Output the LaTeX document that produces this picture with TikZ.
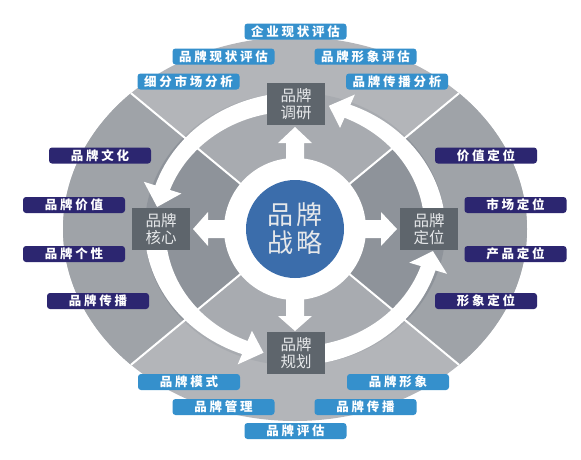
\documentclass[tikz,border=0pt]{standalone}
\usepackage{fontspec}
\newfontfamily\cjk{Noto Sans CJK SC}
\newfontfamily\cjksp[LetterSpace=22]{Noto Sans CJK SC}
\newfontfamily\cjkc[LetterSpace=8]{Noto Sans CJK SC}
\definecolor{outerlight}{HTML}{B3B5B9}
\definecolor{outerdark}{HTML}{9FA3A8}
\definecolor{innerlight}{HTML}{A8ABB0}
\definecolor{innerdark}{HTML}{8E939A}
\definecolor{boxgray}{HTML}{5E656C}
\definecolor{boxtext}{HTML}{E6E8EA}
\definecolor{coreblue}{HTML}{3B6DAB}
\definecolor{lblue}{HTML}{3590CC}
\definecolor{navy}{HTML}{2C2670}
\tikzset{
  lbl/.style={rounded corners=3pt, minimum width=102pt, minimum height=16pt, inner sep=0pt, text=white, font=\cjksp\bfseries\fontsize{12.5}{12.5}\selectfont},
  lb/.style={lbl, fill=lblue},
  ln/.style={lbl, fill=navy},
  gbox/.style={fill=boxgray, minimum width=58pt, minimum height=42pt, inner sep=0pt, text=boxtext, align=center, font=\cjk\fontsize{15.5}{17}\selectfont},
  divider/.style={white, line width=2pt},
  blockarrow/.style={fill=white},
}
% curved tapering arrow: start angle, head-base angle, tip angle
\newcommand{\curvarrow}[3]{%
  \fill[white] plot[domain=#1:#2, samples=30] (\x:{136.5-2.5*(\x-#1)/(#2-#1)})
    -- (#2:145) -- (#3:127) -- (#2:109)
    -- plot[domain=#2:#1, samples=30] (\x:{117.5+2.5*(\x-#1)/(#2-#1)}) -- cycle;}
\begin{document}
\begin{tikzpicture}[x=1pt,y=-1pt]
\useasboundingbox (0,0) rectangle (581,459);
\fill[white] (0,0) rectangle (581,459);
% rings and sectors
\begin{scope}
  \clip (295,229) ellipse [x radius=232pt, y radius=192pt];
  \fill[outerlight] (0,0) rectangle (581,459);
  \fill[outerdark] (295,229) -- (-33,-42.6) -- (-33,500.6) -- cycle;
  \fill[outerdark] (295,229) -- (623,-42.6) -- (623,500.6) -- cycle;
  \begin{scope}
    \clip (295,229) ellipse [x radius=150.5pt, y radius=136.5pt];
    \fill[innerlight] (0,0) rectangle (581,459);
    \fill[innerdark] (295,229) -- (-33,-42.6) -- (-33,500.6) -- cycle;
    \fill[innerdark] (295,229) -- (623,-42.6) -- (623,500.6) -- cycle;
  \end{scope}
  \draw[divider] (-33,-42.6) -- (623,500.6);
  \draw[divider] (-33,500.6) -- (623,-42.6);
\end{scope}
% center
\fill[white] (295,229) circle [radius=71pt];
\node[circle, fill=coreblue, minimum size=98pt, inner sep=0pt, text=boxtext, align=center,
      font=\cjkc\fontsize{26}{28}\selectfont] (core) at (295,229) {品牌\\战略};
% curved arrows
\begin{scope}[shift={(295,229)}, xscale=1.1024, yscale=-1]
  \curvarrow{95}{161}{170}
  \curvarrow{185}{249}{257}
  \curvarrow{275}{342}{350}
  \curvarrow{5}{68}{76}
\end{scope}
% straight arrows
\fill[blockarrow] (286,165) -- (286,143) -- (278,143) -- (295,127) -- (312,143) -- (304,143) -- (304,165) -- cycle;
\fill[blockarrow] (286,293) -- (286,316) -- (278,316) -- (295,331) -- (312,316) -- (304,316) -- (304,293) -- cycle;
\fill[blockarrow] (230,220) -- (208,220) -- (208,212) -- (193,229) -- (208,246) -- (208,238) -- (230,238) -- cycle;
\fill[blockarrow] (360,220) -- (381,220) -- (381,212) -- (397,229) -- (381,246) -- (381,238) -- (360,238) -- cycle;
% boxes
\node[gbox] (research) at (296,104) {品牌\\调研};
\node[gbox] (coreb) at (161,229) {品牌\\核心};
\node[gbox] (plan) at (296,353) {品牌\\规划};
\node[gbox] (position) at (429,229) {品牌\\定位};
% labels top
\node[lb] (t1) at (295.5,31.5) {企业现状评估};
\node[lb] (t2) at (223.5,56.5) {品牌现状评估};
\node[lb] (t3) at (365.5,56.5) {品牌形象评估};
\node[lb] (t4) at (188.5,81.5) {细分市场分析};
\node[lb] (t5) at (397,81.5) {品牌传播分析};
% labels left
\node[ln] (l1) at (100,155.5) {品牌文化};
\node[ln] (l2) at (74,205) {品牌价值};
\node[ln] (l3) at (74,254) {品牌个性};
\node[ln] (l4) at (98,301) {品牌传播};
% labels right
\node[ln] (r1) at (486,155.5) {价值定位};
\node[ln] (r2) at (515.5,205) {市场定位};
\node[ln] (r3) at (515.5,254) {产品定位};
\node[ln] (r4) at (486,301) {形象定位};
% labels bottom
\node[lb] (b1) at (189,382) {品牌模式};
\node[lb] (b2) at (223.5,407) {品牌管理};
\node[lb] (b3) at (295.5,431) {品牌评估};
\node[lb] (b4) at (398,382) {品牌形象};
\node[lb] (b5) at (365.5,407) {品牌传播};
\end{tikzpicture}
\end{document}
